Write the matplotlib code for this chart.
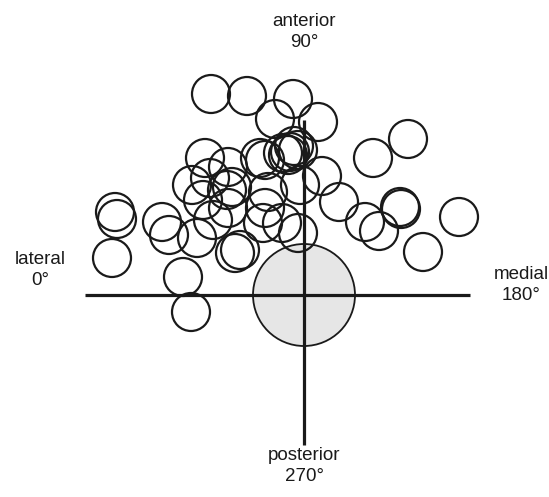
import matplotlib
matplotlib.use("Agg")
from matplotlib import pyplot as plt
from matplotlib.patches import Circle

plt.rcParams['font.family'] = ['Liberation Sans', 'DejaVu Sans']

# circle centres, relative to the crossing of the two axes (x: lateral -> medial, y: posterior -> anterior)
circle_x = [-93, -57, -11, 14, -29, 104, 69, -99, -76, -44, -21, -14, -10, -16, -6,
            -112, -94, -101, -77, -91, -76, -107, -36, -41, -22, -6, -4, 18, 35, 61, 75,
            96, 97, 155, 119, -69, -64, -189, -187, -192, -142, -135, -121, -113, -39, -72, -39]
circle_y = [201, 199, 196, 173, 176, 156, 137, 137, 128, 137, 142, 143, 149, 140, 145,
            110, 117, 95, 105, 75, 87, 57, 103, 72, 72, 62, 110, 119, 93, 73, 64,
            88, 86, 78, 43, 42, 45, 83, 76, 37, 73, 60, 18, -17, 135, 108, 87]
small_r = 19

big_x = [0]
big_y = [0]
big_r = 51

direction_labels = ['anterior\n90°', 'posterior\n270°', 'lateral\n0°', 'medial\n180°']


fig = plt.figure(figsize=(5.49, 4.97), dpi=100)
ax = fig.add_axes([0, 0, 1, 1])
ax.set_xlim(-304, 245)
ax.set_ylim(-202, 295)
ax.set_aspect('equal')
ax.axis('off')

ink = '#1a1a1a'

# body axes
ax.plot([-219, 166], [0, 0], color=ink, lw=2.3, solid_capstyle='butt', zorder=3)
ax.plot([0, 0], [-150, 175], color=ink, lw=2.3, solid_capstyle='butt', zorder=3)

# reference circle
ax.add_patch(Circle((big_x[0], big_y[0]), big_r, facecolor='#e6e6e6', edgecolor=ink, lw=1.3, zorder=2))

for x, y in zip(circle_x, circle_y):
    ax.add_patch(Circle((x, y), small_r, facecolor='none', edgecolor=ink, lw=1.6, zorder=4))

fs = 13.5
ax.text(0, 263, direction_labels[0], ha='center', va='center', fontsize=fs, color=ink, linespacing=1.25)
ax.text(0, -171, direction_labels[1], ha='center', va='center', fontsize=fs, color=ink, linespacing=1.25)
ax.text(-264, 25, direction_labels[2], ha='center', va='center', fontsize=fs, color=ink, linespacing=1.25)
ax.text(217, 10, direction_labels[3], ha='center', va='center', fontsize=fs, color=ink, linespacing=1.25)

fig.savefig('out.png', dpi=100)
